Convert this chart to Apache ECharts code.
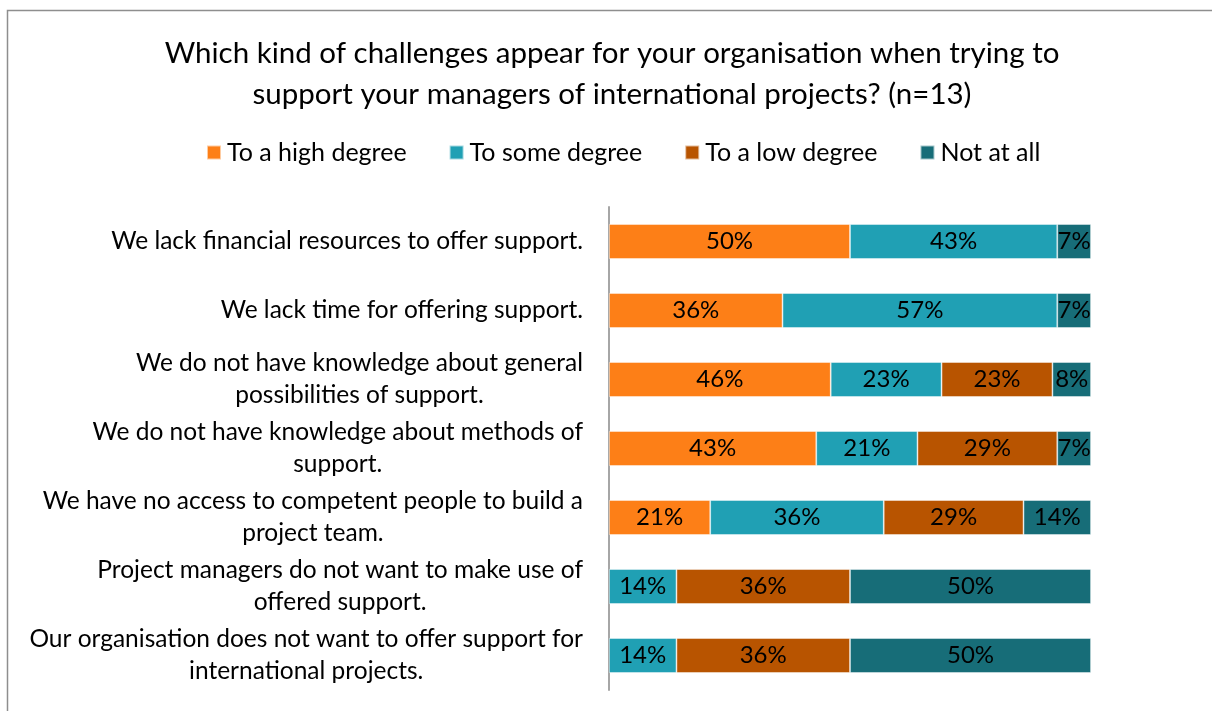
<!DOCTYPE html>
<html>
<head>
<meta charset="utf-8">
<script src="https://cdn.jsdelivr.net/npm/echarts@6/dist/echarts.min.js"></script>
<style>
  html, body { margin: 0; padding: 0; background: #fff; }
  #chart { width: 1212px; height: 711px; }
</style>
</head>
<body>
<div id="chart"></div>
<script>
// Survey statements, top to bottom (explicit line breaks as laid out)
const categories = [
  'We lack financial resources to offer support.',
  'We lack time for offering support.',
  'We do not have knowledge about general\npossibilities of support.',
  'We do not have knowledge about methods of\nsupport.',
  'We have no access to competent people to build a\nproject team.',
  'Project managers do not want to make use of\noffered support.',
  'Our organisation does not want to offer support for\ninternational projects.'
];

const seriesNames = ['To a high degree', 'To some degree', 'To a low degree', 'Not at all'];

// Share of respondents (%) per answer, in category order
const highDegree = [50, 36, 46, 43, 21, null, null];
const someDegree = [43, 57, 23, 21, 36, 14, 14];
const lowDegree  = [null, null, 23, 29, 29, 36, 36];
const notAtAll   = [7, 7, 8, 7, 14, 50, 50];

const colors = ['#FD7F17', '#20A0B4', '#B85400', '#176D78'];
const FONT = 'Lato';

const chart = echarts.init(document.getElementById('chart'), null, { renderer: 'canvas' });

const values = [highDegree, someDegree, lowDegree, notAtAll];

chart.setOption({
  backgroundColor: '#fff',
  textStyle: { fontFamily: FONT },
  title: {
    text: 'Which kind of challenges appear for your organisation when trying to\nsupport your managers of international projects? (n=13)',
    left: 607,
    textAlign: 'center',
    top: 28,
    textStyle: { fontFamily: FONT, fontSize: 29.5, fontWeight: 'normal', color: '#000', lineHeight: 41 }
  },
  legend: {
    top: 135,
    left: 201,
    icon: 'rect',
    itemWidth: 14,
    itemHeight: 14,
    itemGap: 42,
    textStyle: { fontFamily: FONT, fontSize: 25, color: '#000', padding: [0, 0, 0, 1] },
    data: seriesNames
  },
  graphic: [{
    type: 'rect',
    shape: { x: 7.5, y: 10.5, width: 1230, height: 730 },
    style: { fill: 'none', stroke: '#8e8e8e', lineWidth: 1.5 },
    silent: true
  }],
  grid: { left: 609, right: 121, top: 207, bottom: 21, containLabel: false },
  xAxis: {
    type: 'value', min: 0, max: 100, show: false
  },
  yAxis: {
    type: 'category',
    inverse: true,
    data: categories,
    axisLine: { lineStyle: { color: '#a6a6a6', width: 2 } },
    axisTick: { show: false },
    axisLabel: {
      margin: 26,
      align: 'right',
      formatter: v => v.split('\n').map(s => '{c|' + s + '}').join('\n'),
      rich: {
        c: { align: 'center', fontFamily: FONT, fontSize: 24.5, color: '#000', lineHeight: 32 }
      }
    }
  },
  series: seriesNames.map((name, i) => ({
    name,
    type: 'bar',
    stack: 'total',
    barWidth: 35,
    data: values[i],
    itemStyle: { color: colors[i], borderColor: 'rgba(255,255,255,0.6)', borderWidth: 0.8 },
    label: {
      show: true,
      position: 'inside',
      formatter: p => p.value == null ? '' : p.value + '%',
      fontFamily: FONT,
      fontSize: 24,
      color: '#000'
    }
  }))
});
</script>
</body>
</html>
